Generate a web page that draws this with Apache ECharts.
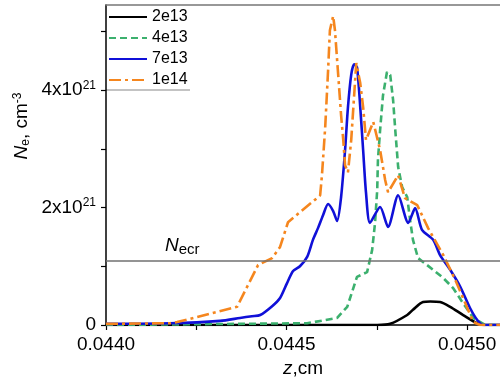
<!DOCTYPE html>
<html>
<head>
<meta charset="utf-8">
<script src="https://cdn.jsdelivr.net/npm/echarts@6/dist/echarts.min.js"></script>
<style>
  html, body { margin: 0; padding: 0; background: #fff; }
  #chart { width: 500px; height: 378px; }
</style>
</head>
<body>
<div id="chart"></div>
<script>
// Ne in units of 1e21 cm^-3, z in cm
const names = ['2e13', '4e13', '7e13', '1e14']

const z2e13 = [0.044000, 0.044751, 0.044787, 0.044834, 0.044850, 0.044878, 0.044898, 0.044925, 0.044953, 0.044989, 0.045028, 0.045050, 0.045091]
const ne2e13 = [0, 0, 0.02, 0.17, 0.26, 0.39, 0.40, 0.39, 0.31, 0.17, 0.03, 0, 0]

const z4e13 = [0.044000, 0.044557, 0.044640, 0.044668, 0.044695, 0.044723, 0.044737, 0.044745, 0.044751, 0.044753,
  0.044759, 0.044767, 0.044778, 0.044787, 0.044795, 0.044801, 0.044809, 0.044820, 0.044834, 0.044842,
  0.044850, 0.044864, 0.044906, 0.044934, 0.044961, 0.044989, 0.045017, 0.045050, 0.045091]
const ne4e13 = [0, 0.03, 0.12, 0.31, 0.82, 0.90, 1.28, 1.74, 2.30, 2.81,
  3.32, 3.91, 4.31, 4.26, 3.83, 3.32, 2.69, 2.35, 2.18, 1.79,
  1.45, 1.14, 0.94, 0.80, 0.63, 0.37, 0.12, 0, 0]

const z7e13 = [0.044000, 0.044177, 0.044316, 0.044371, 0.044404, 0.044427, 0.044460, 0.044482, 0.044501, 0.044518,
  0.044537, 0.044557, 0.044573, 0.044587, 0.044601, 0.044615, 0.044629, 0.044640, 0.044651, 0.044662,
  0.044670, 0.044679, 0.044687, 0.044695, 0.044704, 0.044712, 0.044720, 0.044731, 0.044759, 0.044781,
  0.044809, 0.044837, 0.044856, 0.044875, 0.044906, 0.044925, 0.044953, 0.044981, 0.045008, 0.045028,
  0.045044, 0.045091]
const ne7e13 = [0.02, 0.03, 0.07, 0.12, 0.15, 0.17, 0.32, 0.46, 0.71, 0.92,
  1.00, 1.16, 1.45, 1.65, 1.87, 2.06, 1.94, 1.77, 2.18, 2.98,
  3.71, 4.26, 4.44, 4.39, 3.71, 2.98, 2.25, 1.74, 2.01, 1.67,
  2.21, 1.74, 1.99, 1.62, 1.45, 1.19, 0.94, 0.65, 0.29, 0.085,
  0, 0]

const z1e14 = [0.044000, 0.044177, 0.044197, 0.044363, 0.044421, 0.044460, 0.044482, 0.044504, 0.044537, 0.044584,
  0.044593, 0.044598, 0.044607, 0.044615, 0.044620, 0.044629, 0.044634, 0.044640, 0.044645, 0.044651,
  0.044657, 0.044662, 0.044670, 0.044679, 0.044693, 0.044704, 0.044712, 0.044720, 0.044740, 0.044759,
  0.044773, 0.044781, 0.044809, 0.044828, 0.044862, 0.044892, 0.044934, 0.044967, 0.044995, 0.045017,
  0.045036, 0.045091]
const ne1e14 = [0.02, 0.03, 0.05, 0.31, 1.02, 1.14, 1.33, 1.75, 1.92, 2.16,
  2.21, 2.55, 3.37, 4.34, 5.02, 5.26, 5.02, 4.51, 4.09, 3.57,
  3.15, 2.72, 2.60, 3.15, 4.46, 4.12, 3.71, 3.15, 3.46, 2.98,
  2.47, 2.26, 2.55, 2.16, 2.04, 1.65, 1.19, 0.77, 0.37, 0.05,
  0, 0]

const necr = 1.09
const zMark = 0.0450
const xTicks = [0.0440, 0.04425, 0.0445, 0.04475, 0.0450]
const xLabels = [0.0440, 0.0445, 0.0450]
const yTicks = [0, 1, 2, 3, 4, 5]
const yLabels = [0, 2, 4]

const font = 'Liberation Sans'
const zip = (xs, ys) => xs.map((x, i) => [x, ys[i]])

const chart = echarts.init(document.getElementById('chart'))
chart.setOption({
  animation: false,
  textStyle: { fontFamily: font },
  grid: { left: 106, right: 0, top: 5, bottom: 53, outerBoundsMode: 'none' },
  legend: {
    orient: 'vertical',
    left: 108,
    top: 9,
    padding: 0,
    itemWidth: 38,
    itemHeight: 12,
    itemGap: 5,
    itemStyle: { opacity: 0 },
    textStyle: { fontSize: 16, color: '#000', fontFamily: font },
    data: names
  },
  xAxis: [{
    type: 'value',
    min: 0.0440,
    max: 0.045091,
    name: '{i|z},cm',
    nameLocation: 'middle',
    nameGap: 31,
    nameTextStyle: {
      fontSize: 19, color: '#000',
      rich: { i: { fontSize: 19, fontStyle: 'italic', color: '#000' } }
    },
    axisLine: { lineStyle: { color: '#000', width: 1.5 } },
    axisTick: { length: 5, customValues: xTicks, lineStyle: { color: '#000', width: 1.2 } },
    axisLabel: {
      customValues: xLabels,
      fontSize: 19, color: '#000', margin: 10,
      formatter: v => v.toFixed(4)
    },
    splitLine: { show: false }
  }, {
    type: 'value',
    position: 'top',
    min: 0.0440,
    max: 0.045091,
    axisLine: { lineStyle: { color: '#777', width: 1.5 } },
    axisTick: { show: false },
    axisLabel: { show: false },
    splitLine: { show: false }
  }],
  yAxis: {
    type: 'value',
    min: 0,
    max: 5.45,
    axisLine: { show: true, lineStyle: { color: '#000', width: 1.5 } },
    axisTick: { show: true, length: 5, customValues: yTicks, lineStyle: { color: '#000', width: 1.2 } },
    axisLabel: {
      customValues: yLabels,
      fontSize: 19, color: '#000', margin: 10,
      formatter: v => v === 0 ? '0' : '{b|' + v + 'x10}{p|21}',
      rich: {
        b: { fontSize: 19, color: '#000' },
        p: { fontSize: 12, color: '#000', verticalAlign: 'top', padding: [0, 0, 9, 0] }
      }
    },
    splitLine: { show: false }
  },
  graphic: [
    {
      type: 'text',
      x: 22, y: 126,
      rotation: Math.PI / 2,
      style: {
        text: '{n|N}{s|e}{t|, cm}{p|-3}',
        align: 'center',
        verticalAlign: 'middle',
        rich: {
          n: { fontSize: 19, fontStyle: 'italic', fontFamily: font, fill: '#000' },
          s: { fontSize: 12, fontFamily: font, fill: '#000', padding: [8, 0, 0, 0] },
          t: { fontSize: 19, fontFamily: font, fill: '#000' },
          p: { fontSize: 12, fontFamily: font, fill: '#000', padding: [0, 0, 9, 0] }
        }
      }
    },
    {
      type: 'text',
      x: 165, y: 246,
      style: {
        text: '{n|N}{s|ecr}',
        verticalAlign: 'middle',
        rich: {
          n: { fontSize: 19, fontStyle: 'italic', fontFamily: font, fill: '#000' },
          s: { fontSize: 15, fontFamily: font, fill: '#000', padding: [8, 0, 0, 0] }
        }
      }
    },
    {
      type: 'line',
      shape: { x1: 106, y1: 90, x2: 190, y2: 90 },
      style: { stroke: '#888', lineWidth: 1.2 }
    }
  ],
  series: [
    {
      name: '2e13', type: 'line', symbol: 'none', smooth: 0.3,
      lineStyle: { color: '#000', width: 2.6 },
      itemStyle: { color: '#000' },
      data: zip(z2e13, ne2e13),
      markLine: {
        silent: true, symbol: ['none', 'none'],
        label: { show: false },
        lineStyle: { color: '#707070', width: 1.5, type: 'solid' },
        data: [{ yAxis: necr }, { xAxis: zMark }]
      }
    },
    {
      name: '4e13', type: 'line', symbol: 'none',
      lineStyle: { color: '#3cb06e', width: 2.6, type: [7, 4] },
      itemStyle: { color: '#3cb06e' },
      data: zip(z4e13, ne4e13)
    },
    {
      name: '7e13', type: 'line', symbol: 'none', smooth: 0.25,
      lineStyle: { color: '#1010d8', width: 2.6 },
      itemStyle: { color: '#1010d8' },
      data: zip(z7e13, ne7e13)
    },
    {
      name: '1e14', type: 'line', symbol: 'none',
      lineStyle: { color: '#f5861e', width: 2.6, type: [12, 4, 3, 4] },
      itemStyle: { color: '#f5861e' },
      data: zip(z1e14, ne1e14)
    }
  ]
})
</script>
</body>
</html>
